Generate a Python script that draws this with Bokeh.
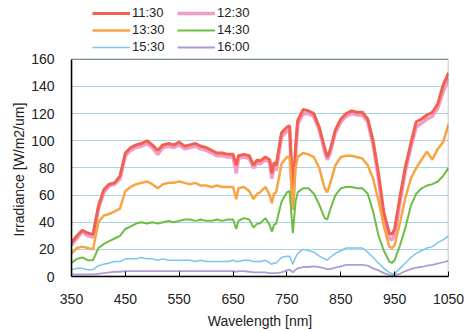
from bokeh.plotting import figure
from bokeh.models import Legend, LegendItem, FixedTicker, Range1d, BoxAnnotation, Title
from bokeh.embed import file_html
from bokeh.resources import INLINE

wavelength = [350, 360, 370, 380, 390, 400, 410, 420, 430, 440,
              450, 460, 470, 480, 490, 500, 510, 520, 530, 540,
              550, 560, 570, 580, 590, 600, 610, 620, 630, 640,
              650, 656, 660, 670, 680, 688, 695, 700, 710, 718,
              722, 726, 730, 740, 750, 755, 761, 766, 770, 780,
              790, 800, 810, 820, 825, 830, 840, 850, 860, 870,
              880, 890, 900, 910, 920, 930, 940, 945, 950, 960,
              970, 980, 990, 1000, 1010, 1020, 1030, 1040, 1050]

t1130 = [25, 30, 34, 32, 31, 52, 64, 68, 69, 74,
         91, 95, 97, 98, 100, 97, 93, 97, 98, 97,
         99, 96, 97, 98, 96, 95, 93, 91, 91, 90,
         90, 82, 89, 90, 89, 82, 86, 85, 88, 86,
         76, 84, 82, 106, 110, 111, 60, 95, 115, 123,
         122, 120, 110, 95, 88, 93, 108, 116, 120, 122,
         121, 121, 116, 100, 76, 47, 32, 31, 35, 59,
         81, 98, 114, 116, 119, 121, 127, 141, 150]

t1230 = [23, 28, 33, 30, 29, 50, 62, 67, 68, 72,
         89, 93, 95, 96, 98, 95, 90, 95, 96, 95,
         97, 94, 95, 96, 94, 93, 91, 89, 89, 88,
         88, 76, 87, 88, 87, 80, 84, 83, 86, 84,
         72, 82, 78, 103, 107, 108, 50, 90, 112, 120,
         120, 118, 108, 92, 86, 91, 106, 114, 118, 120,
         119, 119, 114, 97, 72, 42, 28, 27, 31, 55,
         78, 95, 110, 113, 116, 118, 124, 136, 146]

t1330 = [17, 21, 22, 21, 20, 40, 45, 46, 48, 50,
         63, 66, 68, 69, 70, 68, 65, 68, 69, 69,
         70, 69, 68, 69, 67, 67, 66, 67, 66, 66,
         66, 57, 65, 66, 63, 57, 61, 62, 66, 60,
         54, 61, 62, 83, 88, 88, 49, 80, 88, 91,
         90, 88, 80, 65, 62, 68, 82, 88, 89, 89,
         88, 87, 82, 72, 56, 37, 22, 21, 23, 40,
         58, 72, 80, 86, 92, 86, 94, 99, 112]

t1430 = [10, 13, 14, 12, 12, 21, 24, 26, 28, 30,
         35, 37, 39, 40, 39, 40, 39, 40, 41, 40,
         41, 42, 42, 41, 42, 41, 41, 42, 41, 42,
         42, 35, 41, 43, 42, 36, 39, 39, 43, 38,
         33, 38, 39, 55, 62, 63, 32, 55, 62, 65,
         65, 61, 53, 43, 42, 49, 60, 65, 66, 66,
         65, 65, 61, 48, 30, 19, 11, 10, 12, 23,
         36, 52, 61, 65, 67, 68, 70, 74, 80]

t1530 = [5, 6, 6, 5, 5, 8, 9, 10, 11, 11,
         13, 13, 13, 14, 13, 13, 12, 13, 12, 12,
         12, 12, 12, 11, 12, 11, 11, 11, 11, 11,
         12, 11, 11, 12, 12, 11, 11, 11, 12, 10,
         9, 10, 10, 14, 15, 15, 9, 14, 17, 20,
         19, 18, 15, 13, 12, 14, 17, 19, 21, 21,
         21, 21, 18, 14, 10, 6, 3, 2, 2, 6,
         10, 14, 17, 19, 21, 22, 25, 27, 30]

t1600 = [1.5, 1.5, 1.5, 1.5, 1.5, 2, 2.5, 3, 3.5, 3.5,
         4, 4, 4, 4, 4, 4, 4, 4, 4, 4,
         4, 4, 4, 4, 4, 4, 4, 4, 4, 4,
         4, 3.5, 4, 4, 3.5, 3, 3, 3, 3, 2.5,
         2.5, 2.5, 2.5, 3, 4.5, 5, 3, 5, 6, 7,
         7, 7.5, 7, 6, 5.5, 5.5, 6.5, 7.5, 8.5, 8.5,
         8.5, 8.5, 8, 6, 4.5, 2.5, 1.2, 1, 1, 2,
         4, 5.5, 6.5, 7, 8, 8.5, 9.5, 10.5, 11.5]

labels = ["11:30", "12:30", "13:30", "14:30", "15:30", "16:00"]
y_ticks = [0, 20, 40, 60, 80, 100, 120, 140, 160]
x_ticks = [350, 450, 550, 650, 750, 850, 950, 1050]

FONT = "Liberation Sans"
TXT = "#222222"

# frame extends above the 0-160 box so the legend can sit inside the canvas
p = figure(width=466, height=331, output_backend="svg", toolbar_location=None,
           x_range=Range1d(x_ticks[0], x_ticks[-1]), y_range=Range1d(0, 200.4),
           min_border_left=71, min_border_right=18, min_border_top=4,
           min_border_bottom=54, background_fill_color="white",
           border_fill_color="white")

p.outline_line_color = None
p.xgrid.visible = False
p.ygrid.grid_line_color = "#a9d3e6"
p.ygrid.grid_line_width = 1

p.xaxis.ticker = FixedTicker(ticks=x_ticks)
p.yaxis.ticker = FixedTicker(ticks=y_ticks)
p.yaxis.bounds = (y_ticks[0], y_ticks[-1])
for ax in (p.xaxis, p.yaxis):
    ax.major_label_text_font = FONT
    ax.major_label_text_font_size = "14px"
    ax.major_label_text_color = TXT
    ax.axis_label_text_font = FONT
    ax.axis_label_text_font_size = "14px"
    ax.axis_label_text_font_style = "normal"
    ax.axis_label_text_color = TXT
    ax.axis_line_color = "black"
    ax.axis_line_width = 1.5
    ax.minor_tick_line_color = None
    ax.major_tick_line_color = "black"
p.xaxis.major_tick_in = 5
p.xaxis.major_tick_out = 0
p.yaxis.major_tick_in = 0
p.yaxis.major_tick_out = 0
p.xaxis.major_label_standoff = 17
p.yaxis.major_label_standoff = 17
p.xaxis.axis_label = "Wavelength [nm]"
p.xaxis.axis_label_standoff = 6

ytitle = Title(text="Irradiance [W/m2/um]", align="left", offset=40,
               text_font=FONT, text_font_size="14px", text_font_style="normal",
               text_color=TXT, standoff=4)
p.add_layout(ytitle, "left")

box = BoxAnnotation(left=x_ticks[0], right=x_ticks[-1], bottom=y_ticks[0], top=y_ticks[-1],
                    fill_alpha=0, line_color="black", line_width=1.5)
p.add_layout(box)

r_pink = p.line(wavelength, t1230, line_color="#f39bc9", line_width=3.5)
r_red = p.line(wavelength, t1130, line_color="#f2604f", line_width=3)
r_orange = p.line(wavelength, t1330, line_color="#f9a443", line_width=2.5)
r_green = p.line(wavelength, t1430, line_color="#6dbd45", line_width=2)
r_blue = p.line(wavelength, t1530, line_color="#7cc4ee", line_width=1.5)
r_purple = p.line(wavelength, t1600, line_color="#b39ad6", line_width=1.8)

rmap = dict(zip(labels, [r_red, r_pink, r_orange, r_green, r_blue, r_purple]))
# legend fills column by column: reorder so rows read 11:30 12:30 / 13:30 14:30 / 15:30 16:00
order = [labels[0], labels[2], labels[4], labels[1], labels[3], labels[5]]
items = [LegendItem(label=l, renderers=[rmap[l]]) for l in order]
legend = Legend(items=items, ncols=2,
                location=(21, 222), padding=0, margin=0, spacing=2,
                glyph_width=38, glyph_height=14, label_height=14, label_width=43,
                label_standoff=2, label_text_font=FONT,
                label_text_font_size="13px", label_text_color=TXT,
                border_line_color=None, background_fill_alpha=0)
p.add_layout(legend, "center")

open("out.html", "w").write(file_html(p, INLINE))
